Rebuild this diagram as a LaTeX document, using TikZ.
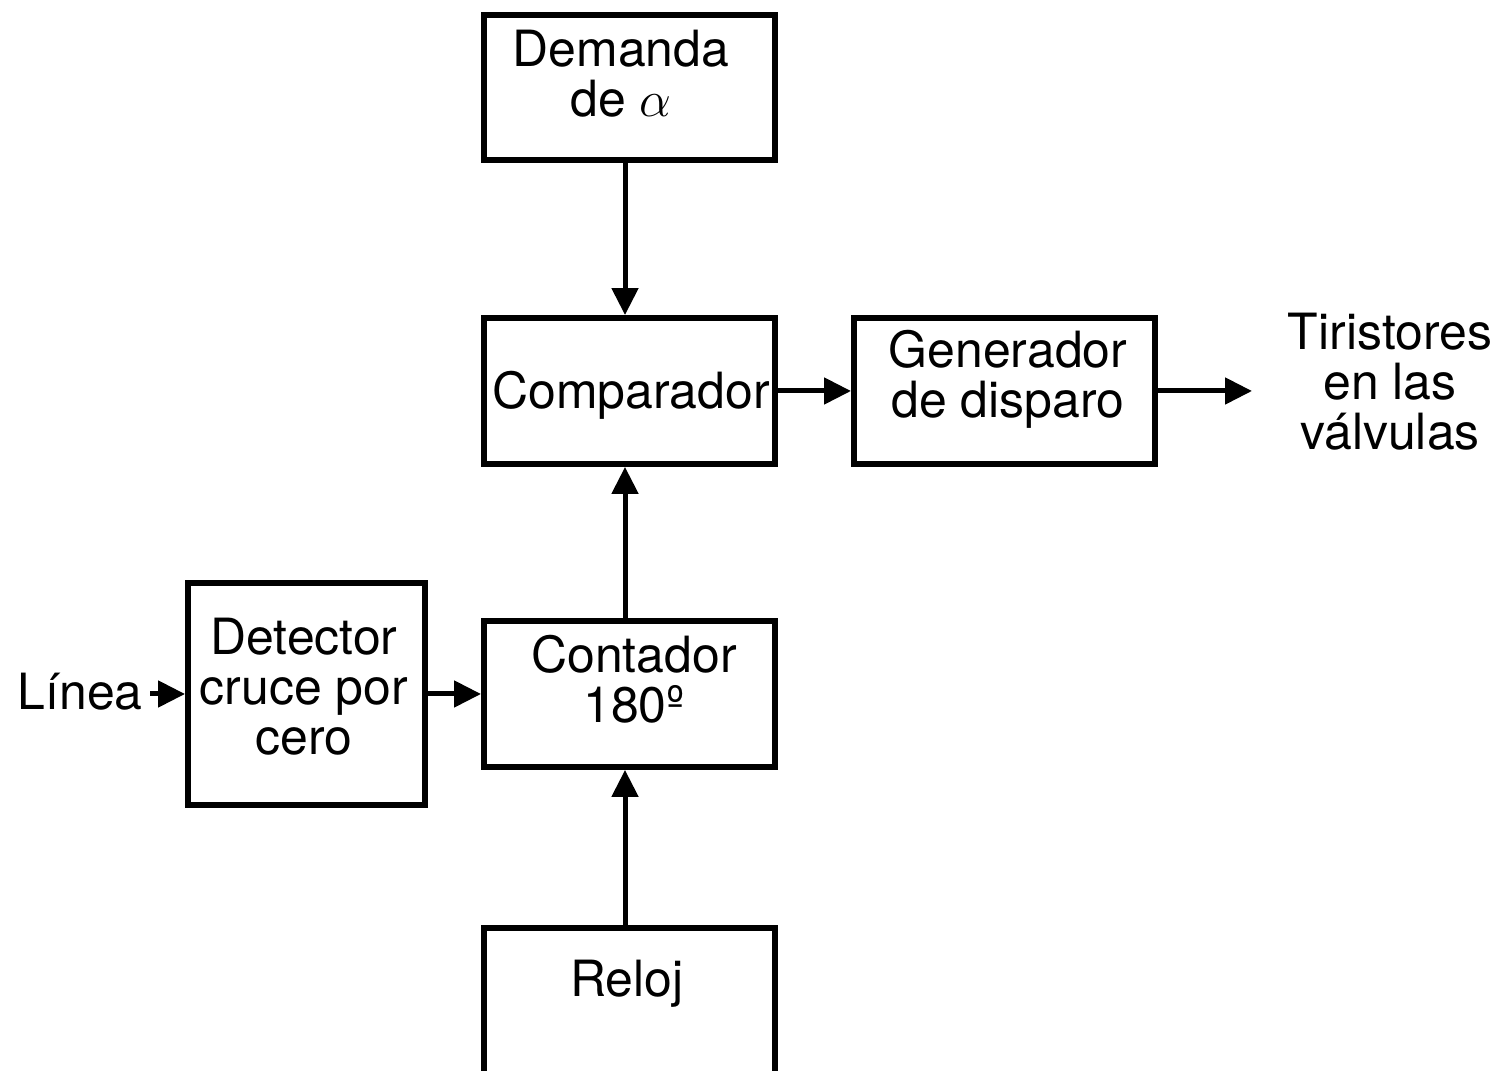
\documentclass[tikz,border=0pt]{standalone}
\usepackage{fontspec}
\setmainfont{TeX Gyre Heros}
\usetikzlibrary{arrows.meta}
\begin{document}
\begin{tikzpicture}[x=0.01cm,y=-0.01cm,
  box/.style={draw=black, line width=0.058cm, inner sep=0pt, fill=white},
  txt/.style={inner sep=0pt, align=center, anchor=base, font=\fontsize{14.2pt}{14.3pt}\selectfont},
  arr/.style={line width=0.05cm, -{Triangle[length=0.27cm,width=0.26cm]}}]
\useasboundingbox (0,0) rectangle (1503,1071);
\clip (0,0) rectangle (1503,1071);
\fill[white] (0,0) rectangle (1503,1071);
% boxes
\node[box, minimum width=2.91cm, minimum height=1.45cm] (dem) at (629.5,87.5) {};
\node[box, minimum width=2.91cm, minimum height=1.46cm] (cmp) at (629.5,391) {};
\node[box, minimum width=3.01cm, minimum height=1.46cm] (gen) at (1004.5,391) {};
\node[box, minimum width=2.91cm, minimum height=1.46cm] (con) at (629.5,694) {};
\node[box, minimum width=2.37cm, minimum height=2.22cm] (det) at (306.5,694) {};
\node[box, minimum width=2.91cm, minimum height=2.0cm, anchor=north] (rel) at (629.5,925) {};
% texts (base anchor = baseline of last line)
\node[txt] (demt) at (621,117) {Demanda\\de $\alpha$};
\node[txt] (cmpt) at (631,409) {Comparador};
\node[txt] (gent) at (1008,418) {Generador\\de disparo};
\node[txt] (tir) at (1390,450) {Tiristores\\en las\\válvulas};
\node[txt] (cont) at (634,723) {Contador\\180º};
\node[txt] (dett) at (304,755) {Detector\\cruce por\\cero};
\node[txt, anchor=base west] (lin) at (17,710) {Línea};
\node[txt] (relt) at (627,997) {Reloj};
% connectors
\coordinate (ax) at (625,0);
\coordinate (out) at (1252,391);
\draw[arr] (dem.south -| ax) -- (cmp.north -| ax);
\draw[arr] (con.north -| ax) -- (cmp.south -| ax);
\draw[arr] (rel.north -| ax) -- (con.south -| ax);
\draw[arr] (cmp.east) -- (gen.west);
\draw[arr] (gen.east) -- (out);
\draw[arr] (det.east) -- (con.west);
\draw[arr, shorten <=0.07cm] (det.west -| lin.east) -- (det.west);
\end{tikzpicture}
\end{document}
